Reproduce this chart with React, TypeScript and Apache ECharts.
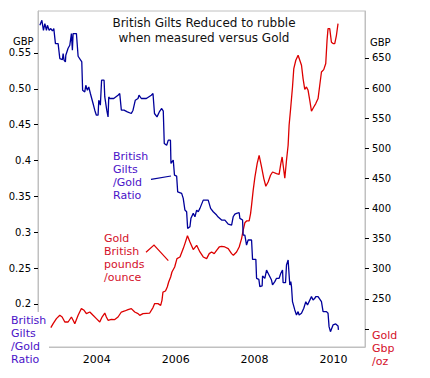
import React, { useEffect, useRef } from "react";
import * as echarts from "echarts";

// Gilts / Gold ratio (left axis), decimal years
const blueYears = [2002.557,2002.608,2002.648,2002.684,2002.724,2002.749,2002.792,2002.835,2002.876,2002.911,2002.952,2003.020,2003.063,2003.129,2003.147,2003.172,2003.205,2003.215,2003.273,2003.316,2003.357,2003.382,2003.400,2003.484,2003.527,2003.595,2003.620,2003.641,2003.696,2003.722,2003.762,2003.797,2003.838,2003.906,2003.949,2003.990,2004.033,2004.051,2004.091,2004.122,2004.185,2004.203,2004.253,2004.286,2004.304,2004.329,2004.430,2004.539,2004.582,2004.623,2004.691,2004.775,2004.876,2004.919,2004.977,2005.046,2005.071,2005.129,2005.256,2005.382,2005.425,2005.463,2005.527,2005.585,2005.646,2005.686,2005.711,2005.772,2005.813,2005.868,2005.881,2005.939,2005.970,2006.025,2006.051,2006.152,2006.192,2006.235,2006.278,2006.304,2006.362,2006.387,2006.446,2006.489,2006.532,2006.572,2006.615,2006.699,2006.825,2006.886,2006.952,2007.038,2007.078,2007.165,2007.248,2007.332,2007.418,2007.458,2007.501,2007.544,2007.610,2007.628,2007.696,2007.711,2007.754,2007.797,2007.838,2007.924,2007.949,2008.033,2008.051,2008.109,2008.134,2008.192,2008.203,2008.261,2008.304,2008.344,2008.430,2008.456,2008.514,2008.557,2008.623,2008.666,2008.709,2008.724,2008.785,2008.810,2008.851,2008.876,2008.894,2008.919,2008.937,2008.962,2009.020,2009.063,2009.104,2009.129,2009.190,2009.248,2009.299,2009.342,2009.443,2009.484,2009.527,2009.552,2009.610,2009.696,2009.737,2009.823,2009.863,2009.889,2009.924,2009.990,2010.058,2010.116,2010.127];
const blueValues = [0.5886,0.5955,0.5816,0.5909,0.5816,0.5886,0.5816,0.5840,0.5806,0.5840,0.5631,0.5631,0.5422,0.5408,0.5492,0.5398,0.5375,0.5468,0.5565,0.5607,0.5770,0.5538,0.5770,0.5770,0.5454,0.5398,0.5375,0.4980,0.4957,0.5050,0.4980,0.5026,0.4935,0.4795,0.4702,0.4632,0.4632,0.4841,0.4772,0.5120,0.5120,0.4887,0.4702,0.4609,0.4887,0.4865,0.4865,0.4911,0.4935,0.4702,0.4702,0.4678,0.4656,0.4702,0.4841,0.4865,0.4911,0.4865,0.4865,0.4911,0.4935,0.4656,0.4609,0.4678,0.4726,0.4688,0.4238,0.4214,0.4284,0.4284,0.3960,0.4006,0.3797,0.3783,0.3564,0.3542,0.3472,0.3309,0.3286,0.3054,0.3077,0.3194,0.3263,0.3216,0.3309,0.3286,0.3333,0.3448,0.3448,0.3333,0.3286,0.3240,0.3212,0.3170,0.3170,0.3114,0.3100,0.3216,0.3253,0.3263,0.3272,0.3194,0.3170,0.2961,0.2961,0.2822,0.2892,0.2892,0.2622,0.2622,0.2358,0.2344,0.2241,0.2251,0.2390,0.2358,0.2473,0.2428,0.2334,0.2265,0.2311,0.2358,0.2358,0.2428,0.2473,0.2297,0.2297,0.2543,0.2613,0.2404,0.2265,0.2311,0.2241,0.2032,0.1917,0.1847,0.1893,0.1847,0.1870,0.1940,0.2032,0.1986,0.2102,0.2056,0.2079,0.2102,0.2102,0.2032,0.1893,0.1893,0.1870,0.1684,0.1614,0.1707,0.1721,0.1694,0.1638];

// Gold in GBP per ounce (right axis)
const redYears = [2002.835,2002.894,2002.977,2003.063,2003.122,2003.190,2003.273,2003.357,2003.400,2003.443,2003.527,2003.610,2003.678,2003.737,2003.823,2003.906,2003.990,2004.076,2004.134,2004.203,2004.243,2004.286,2004.370,2004.456,2004.539,2004.623,2004.709,2004.792,2004.876,2004.962,2005.046,2005.089,2005.172,2005.342,2005.425,2005.468,2005.552,2005.620,2005.653,2005.678,2005.742,2005.787,2005.823,2005.873,2005.906,2005.975,2006.033,2006.109,2006.192,2006.235,2006.299,2006.362,2006.446,2006.532,2006.615,2006.699,2006.785,2006.851,2006.911,2006.977,2007.038,2007.104,2007.165,2007.248,2007.332,2007.418,2007.463,2007.544,2007.610,2007.671,2007.711,2007.754,2007.797,2007.863,2007.899,2007.924,2007.965,2008.008,2008.066,2008.116,2008.177,2008.235,2008.286,2008.344,2008.405,2008.456,2008.557,2008.623,2008.666,2008.699,2008.767,2008.810,2008.851,2008.876,2008.911,2008.962,2008.995,2009.046,2009.104,2009.147,2009.190,2009.230,2009.273,2009.316,2009.357,2009.400,2009.443,2009.501,2009.552,2009.610,2009.653,2009.696,2009.754,2009.805,2009.838,2009.863,2009.906,2009.949,2009.990,2010.033,2010.076,2010.116];
const redValues = [202.2,208.8,217.1,222.6,219.8,211.5,211.5,219.8,214.3,208.8,222.6,233.8,230.9,225.5,228.1,222.6,217.1,211.5,219.8,226.4,219.8,214.3,216.0,215.5,219.8,228.1,229.8,232.1,233.8,228.1,225.5,222.6,225.5,226.4,235.4,242.1,242.1,239.2,247.5,261.3,263.0,269.6,277.9,286.2,294.5,302.9,316.8,319.5,333.4,341.7,354.7,344.4,331.8,338.9,327.8,319.5,316.8,325.1,327.8,325.1,330.6,336.1,337.2,336.1,333.4,325.1,322.3,327.8,336.1,350.0,363.8,376.3,379.3,379.3,391.5,405.3,430.2,451.8,474.6,488.4,469.0,449.7,436.9,444.0,455.2,460.6,458.0,456.8,474.6,485.6,450.2,480.1,505.0,538.2,563.1,601.8,632.4,646.2,654.5,646.2,637.9,615.8,598.0,601.8,596.3,579.7,561.5,568.6,574.3,582.6,604.7,626.7,630.7,640.7,679.4,698.8,698.8,676.1,673.9,673.9,687.7,707.1];

const xTickValues = [2004, 2006, 2008, 2010];
const leftTickValues = [0.2, 0.25, 0.3, 0.35, 0.4, 0.45, 0.5, 0.55];
const leftTickLabels = ["0.2", "0.25", "0.3", "0.35", "0.4", "0.45", "0.50", "0.55"];
const rightTickValues = [200, 250, 300, 350, 400, 450, 500, 550, 600, 650];
const rightLabelValues = [250, 300, 350, 400, 450, 500, 550, 600, 650];

const FONT = "'DejaVu Sans', Tahoma, Verdana, sans-serif";
const BLUE = "#00009a";
const RED = "#dd0000";
const BLUE_TXT = "#4a12c8";
const RED_TXT = "#d4102a";
const GREY = "#c0c0c0";

export default function App() {
  const ref = useRef<HTMLDivElement>(null);
  useEffect(() => {
    document.body.style.margin = "0";
    if (!ref.current) return;
    const chart = echarts.init(ref.current, undefined, { renderer: "svg" });
    const blueData = blueYears.map((y, i) => [y, blueValues[i]]);
    const redData = redYears.map((y, i) => [y, redValues[i]]);
    const txt = (text: string, x: number, y: number, fill: string, size: number, lh: number, align = "left") => ({
      type: "text",
      x,
      y,
      z: 110,
      style: { text, fill, fontSize: size, fontFamily: FONT, lineHeight: lh, align, verticalAlign: "top" },
    });
    chart.setOption({
      animation: false,
      backgroundColor: "#ffffff",
      grid: { left: 38, right: 65, top: 11, bottom: 31, show: true, borderColor: GREY, borderWidth: 1, backgroundColor: "transparent" },
      xAxis: {
        type: "value",
        min: 2002.51,
        max: 2010.8,
        axisLine: { show: true, lineStyle: { color: GREY, width: 1 } },
        axisTick: { show: false },
        splitLine: { show: false },
        axisLabel: {
          customValues: xTickValues,
          formatter: (v: number) => String(Math.round(v)),
          color: "#000",
          fontSize: 11,
          fontFamily: FONT,
          margin: 7,
        },
      },
      yAxis: [
        {
          type: "value",
          position: "left",
          min: 0.14,
          max: 0.6085,
          axisLine: { show: true, lineStyle: { color: GREY, width: 1 } },
          axisTick: { show: true, length: 4, customValues: leftTickValues, lineStyle: { color: "#000" } },
          splitLine: { show: false },
          axisLabel: {
            customValues: leftTickValues,
            formatter: (v: number) => {
              const i = leftTickValues.findIndex((t) => Math.abs(t - v) < 1e-6);
              return i >= 0 ? leftTickLabels[i] : "";
            },
            color: "#000",
            fontSize: 10,
            fontFamily: FONT,
            margin: 7,
          },
        },
        {
          type: "value",
          position: "right",
          min: 170,
          max: 728,
          axisLine: { show: true, lineStyle: { color: GREY, width: 1 } },
          axisTick: { show: true, length: 4, customValues: rightTickValues, lineStyle: { color: "#000" } },
          splitLine: { show: false },
          axisLabel: {
            customValues: rightLabelValues,
            formatter: (v: number) => String(Math.round(v)),
            color: "#000",
            fontSize: 10,
            fontFamily: FONT,
            margin: 7,
          },
        },
      ],
      series: [
        {
          type: "line",
          yAxisIndex: 0,
          data: blueData,
          symbol: "none",
          lineStyle: { color: BLUE, width: 1.3 },
          z: 3,
        },
        {
          type: "line",
          yAxisIndex: 1,
          data: redData,
          symbol: "none",
          lineStyle: { color: RED, width: 1.3 },
          z: 2,
        },
      ],
      graphic: [
        { type: "rect", z: 100, shape: { x: 6, y: 312, width: 43, height: 62 }, style: { fill: "#ffffff" } },
        txt("British\nGilts\n/Gold\nRatio", 11, 313.5, BLUE_TXT, 11, 13),
        txt("Gold\nGbp\n/oz", 372, 328.5, RED_TXT, 11, 13),
        txt("British\nGilts\n/Gold\nRatio", 113, 150, BLUE_TXT, 11, 13),
        txt("Gold\nBritish\npounds\n/ounce", 104, 232, RED_TXT, 11, 13),
        txt("British Gilts Reduced to rubble\nwhen measured versus Gold", 204, 15, "#111111", 12, 15, "center"),
        txt("GBP", 13, 35, "#000", 10, 12),
        txt("GBP", 370, 36, "#000", 10, 12),
        { type: "polyline", z: 105, shape: { points: [[151, 179.3], [171, 176]] }, style: { stroke: BLUE, lineWidth: 1.2, fill: "none" } },
        { type: "polyline", z: 105, shape: { points: [[146, 252.3], [154, 245], [168.3, 260.7]] }, style: { stroke: RED, lineWidth: 1.2, fill: "none" } },
      ],
    });
    return () => chart.dispose();
  }, []);
  return <div ref={ref} style={{ width: 430, height: 378 }} />;
}
